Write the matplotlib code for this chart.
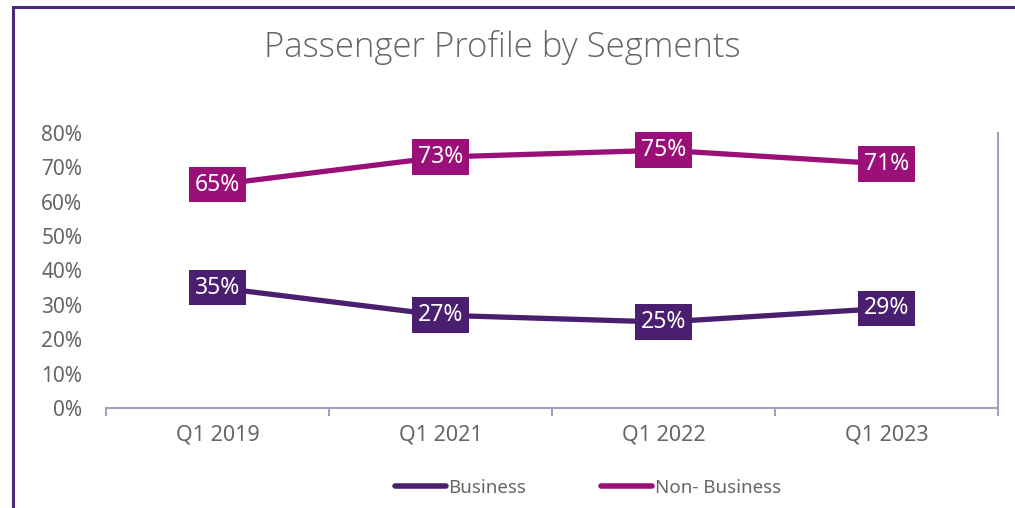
import matplotlib
matplotlib.use("Agg")
import matplotlib.pyplot as plt
from matplotlib.lines import Line2D
from matplotlib.patches import Rectangle

categories = ["Q1 2019", "Q1 2021", "Q1 2022", "Q1 2023"]
business = [35, 27, 25, 29]
non_business = [65, 73, 75, 71]
y_ticks = [0, 10, 20, 30, 40, 50, 60, 70, 80]
series_names = ["Business", "Non- Business"]

C_BUS = "#4B1F70"
C_NON = "#9B0F79"
C_TXT = "#666666"
C_AX = "#A69FBD"
C_FRAME = "#4B2A7A"

plt.rcParams['font.family'] = ['Noto Sans', 'DejaVu Sans']

fig = plt.figure(figsize=(10.15, 5.08), dpi=100)
fig.patch.set_facecolor("white")

# outer frame (left and top visible)
fig.patches.append(Rectangle((13/1015, -0.1), 1.2, (508-7)/508 + 0.1,
                             transform=fig.transFigure, fill=False,
                             edgecolor=C_FRAME, linewidth=2.2, zorder=0))

ax = fig.add_axes([106/1015, (508-408)/508, 892/1015, 275/508])
x = list(range(len(categories)))

ax.plot(x, business, color=C_BUS, lw=3.8, solid_capstyle='round', zorder=2)
ax.plot(x, non_business, color=C_NON, lw=3.8, solid_capstyle='round', zorder=2)

for xi, v in zip(x, business):
    ax.text(xi, v, f"{v}%", ha='center', va='center', color='white', fontsize=16.5,
            bbox=dict(boxstyle='square,pad=0.25', fc=C_BUS, ec='none'), zorder=3)
for xi, v in zip(x, non_business):
    ax.text(xi, v, f"{v}%", ha='center', va='center', color='white', fontsize=16.5,
            bbox=dict(boxstyle='square,pad=0.25', fc=C_NON, ec='none'), zorder=3)

ax.set_xlim(-0.5, len(categories) - 0.5)
ax.set_ylim(0, 80)
ax.set_xticks(x)
ax.set_xticklabels(categories)
ax.set_xticks([i - 0.5 for i in range(len(categories) + 1)], minor=True)
ax.tick_params(axis='x', which='major', length=0, pad=12, labelsize=15.5, labelcolor=C_TXT)
ax.tick_params(axis='x', which='minor', length=6, width=1.5, color=C_AX, direction='out')
ax.set_yticks(y_ticks)
ax.set_yticklabels([f"{t}%" for t in y_ticks])
ax.tick_params(axis='y', length=0, pad=17, labelsize=15, labelcolor=C_TXT)

for s in ['top', 'left']:
    ax.spines[s].set_visible(False)
ax.spines['bottom'].set_color(C_AX)
ax.spines['bottom'].set_linewidth(1.5)
ax.spines['right'].set_color(C_AX)
ax.spines['right'].set_linewidth(1.5)

fig.text(502/1015, 1 - 47/508, "Passenger Profile by Segments", ha='center', va='center',
         fontsize=25, color=C_TXT, fontweight='light', family=['Open Sans', 'DejaVu Sans'])

handles = [Line2D([0], [0], color=C_BUS, lw=4, solid_capstyle='round'),
           Line2D([0], [0], color=C_NON, lw=4, solid_capstyle='round')]
fig.legend(handles, series_names, loc='center', bbox_to_anchor=(588/1015, 1 - 488/508),
           ncol=2, frameon=False, fontsize=13.5, labelcolor=C_TXT,
           handlelength=2.7, handletextpad=0.15, columnspacing=4.0)

fig.savefig("out.png", dpi=100, facecolor="white")
